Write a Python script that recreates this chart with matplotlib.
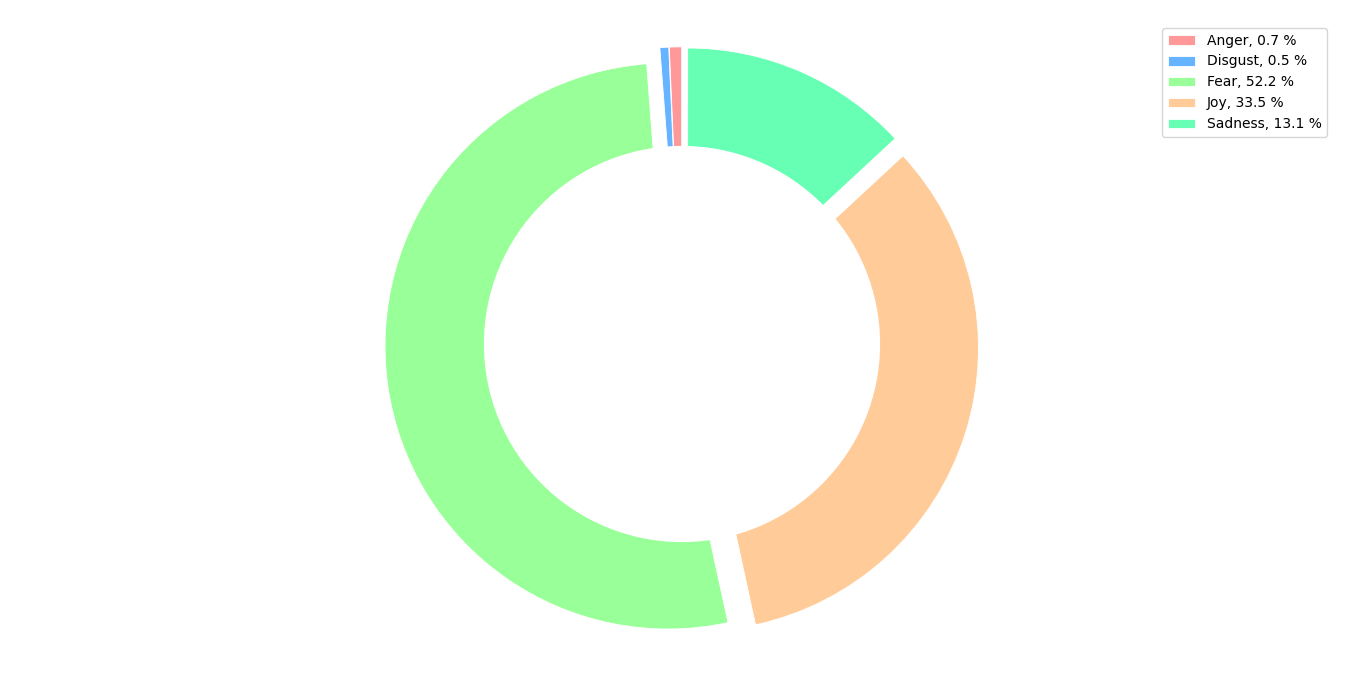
import matplotlib
matplotlib.use("Agg")
import matplotlib.pyplot as plt

emotions = ["Anger", "Disgust", "Fear", "Joy", "Sadness"]
shares = [0.7, 0.5, 52.2, 33.5, 13.1]
colors = ["#ff9999", "#66b3ff", "#99ff99", "#ffcc99", "#66ffb3"]
explode = [0.05] * len(shares)

fig = plt.figure(figsize=(13.66, 6.77), dpi=100)
ax = fig.add_axes([0, 0, 1, 1])

wedges, _ = ax.pie(shares, colors=colors, explode=explode, startangle=90,
                   wedgeprops=dict(edgecolor="white", linewidth=0.6))
centre = plt.Circle((0, 0), 0.70, fc="white")
ax.add_artist(centre)

# scale ~283 px per unit, centre at (682, 344) px from top-left
s = 283.0
ax.set_xlim(-682 / s, (1366 - 682) / s)
ax.set_ylim(-(677 - 344) / s, 344 / s)
ax.set_aspect("auto")
ax.axis("off")

labels = ["%s, %.1f %%" % (e, v) for e, v in zip(emotions, shares)]
ax.legend(wedges, labels, loc="upper right", borderaxespad=0,
          bbox_to_anchor=(1327 / 1366, 1 - 28 / 677), fontsize=10)

fig.savefig("out.png", dpi=100)
